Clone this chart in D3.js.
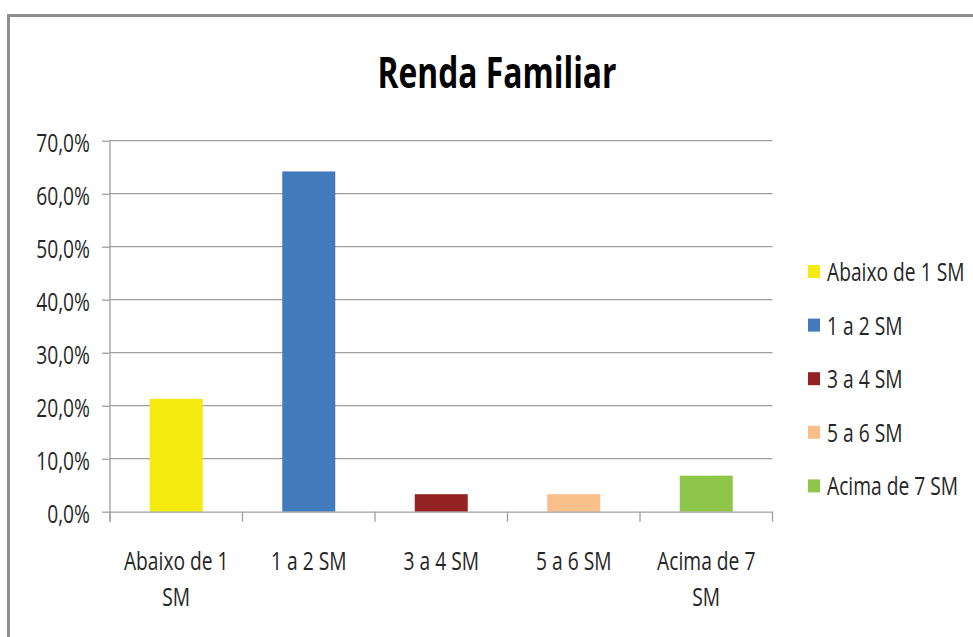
<!DOCTYPE html>
<html lang="pt">
  <head>
    <meta charset="UTF-8" />
    <title>Renda Familiar</title>
    <script src="https://d3js.org/d3.v7.min.js"></script>
    <style>
      body { margin: 0; background: #fff; }
      svg { display: block; }
      text { font-family: "Open Sans", "Noto Sans", sans-serif; fill: #262626; }
    </style>
  </head>
  <body>
    <svg id="chart" width="973" height="637"></svg>
    <script>
      // dados
      const categories = ["Abaixo de 1 SM", "1 a 2 SM", "3 a 4 SM", "5 a 6 SM", "Acima de 7 SM"];
      const tickLines = [["Abaixo de 1", "SM"], ["1 a 2 SM"], ["3 a 4 SM"], ["5 a 6 SM"], ["Acima de 7", "SM"]];
      const values = [21.3, 64.2, 3.3, 3.3, 6.8];
      const colors = ["#f4ea10", "#417bbc", "#952222", "#f8bf8a", "#8ec649"];
      const yTicks = [0, 10, 20, 30, 40, 50, 60, 70];

      const sx = 0.74; // letras estreitas
      const svg = d3.select("#chart");

      // moldura
      svg.append("rect")
        .attr("x", 8.5).attr("y", 15.5)
        .attr("width", 985).attr("height", 640)
        .attr("fill", "none")
        .attr("stroke", "#8e8e8e")
        .attr("stroke-width", 3);

      // titulo
      svg.append("text")
        .attr("transform", `translate(497,88) scale(${sx},1)`)
        .attr("text-anchor", "middle")
        .attr("font-size", 43)
        .attr("font-weight", "bold")
        .style("fill", "#000")
        .text("Renda Familiar");

      const pLeft = 110, pRight = 772.5, pTop = 140.7, pBottom = 511.7;

      const x = d3.scaleBand().domain(categories).range([pLeft, pRight]);
      const y = d3.scaleLinear().domain([0, 70]).range([pBottom, pTop]);

      // grade
      svg.append("g")
        .selectAll("line")
        .data(yTicks.slice(1))
        .join("line")
        .attr("x1", pLeft).attr("x2", pRight)
        .attr("y1", d => y(d)).attr("y2", d => y(d))
        .attr("stroke", "#9f9f9f")
        .attr("stroke-width", 1.3);

      // eixo y
      const yAxis = svg.append("g")
        .attr("transform", `translate(${pLeft},0)`)
        .call(d3.axisLeft(y).tickValues(yTicks).tickSize(8).tickSizeOuter(0).tickPadding(19)
          .tickFormat(d => d.toFixed(1).replace(".", ",") + "%"));
      yAxis.select(".domain").remove();
      yAxis.append("line")
        .attr("x1", 0).attr("x2", 0).attr("y1", pTop).attr("y2", pBottom + 10)
        .attr("stroke", "#9f9f9f").attr("stroke-width", 1.3);
      yAxis.selectAll(".tick line").attr("stroke", "#9f9f9f").attr("stroke-width", 1.3);
      yAxis.selectAll(".tick text")
        .attr("font-size", 26)
        .attr("dy", "0.4em")
        .attr("transform", `scale(${sx},1)`)
        .attr("x", -20 / sx)
        .style("fill", "#262626");
      yAxis.attr("font-family", null);

      // barras
      svg.append("g")
        .selectAll("rect")
        .data(values)
        .join("rect")
        .attr("x", (d, i) => x(categories[i]) + x.bandwidth() * 0.3)
        .attr("width", x.bandwidth() * 0.4)
        .attr("y", d => y(d))
        .attr("height", d => y(0) - y(d))
        .attr("fill", (d, i) => colors[i]);

      // eixo x
      const xAxis = svg.append("g")
        .attr("transform", `translate(0,${pBottom})`)
        .call(d3.axisBottom(x).tickSize(0).tickSizeOuter(0).tickFormat(""));
      xAxis.attr("font-family", null);
      xAxis.select(".domain").attr("stroke", "#9f9f9f").attr("stroke-width", 1.3);
      xAxis.selectAll(".tick").remove();

      const bounds = categories.map(c => x(c)).concat([pRight]);
      xAxis.selectAll("line.sep")
        .data(bounds)
        .join("line")
        .attr("class", "sep")
        .attr("x1", d => d).attr("x2", d => d)
        .attr("y1", 0).attr("y2", 10)
        .attr("stroke", "#9f9f9f").attr("stroke-width", 1.3);

      const lab = xAxis.selectAll("g.lab")
        .data(categories)
        .join("g")
        .attr("class", "lab")
        .attr("transform", d => `translate(${x(d) + x.bandwidth() / 2},58) scale(${sx},1)`);
      lab.append("text")
        .attr("text-anchor", "middle")
        .attr("font-size", 26)
        .selectAll("tspan")
        .data((d, i) => tickLines[i])
        .join("tspan")
        .attr("x", 0)
        .attr("y", (d, j) => j * 36)
        .text(d => d);

      // legenda
      const leg = svg.append("g")
        .selectAll("g")
        .data(categories)
        .join("g")
        .attr("transform", (d, i) => `translate(808,${272 + i * 53.6})`);
      leg.append("rect")
        .attr("x", 0).attr("y", -7)
        .attr("width", 12).attr("height", 13)
        .attr("fill", (d, i) => colors[i]);
      leg.append("text")
        .attr("transform", `translate(19,9) scale(${sx},1)`)
        .attr("font-size", 26)
        .text(d => d);
    </script>
  </body>
</html>
